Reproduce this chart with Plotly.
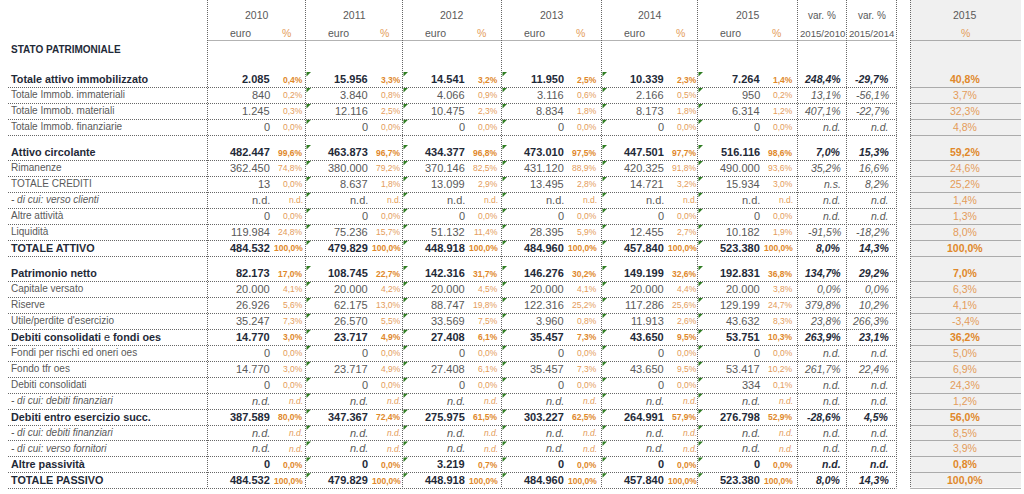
import plotly.graph_objects as go

# ---------------- data ----------------
row_labels = [
    "Totale attivo immobilizzato", "Totale Immob. immateriali", "Totale Immob. materiali",
    "Totale Immob. finanziarie",
    "Attivo circolante", "Rimanenze", "TOTALE CREDITI", "- di cui: verso clienti", "Altre attività",
    "Liquidità", "TOTALE ATTIVO",
    "Patrimonio netto", "Capitale versato", "Riserve", "Utile/perdite d'esercizio",
    "Debiti consolidati e fondi oes", "Fondi per rischi ed oneri oes", "Fondo tfr oes",
    "Debiti consolidati", "- di cui: debiti finanziari", "Debiti entro esercizio succ.",
    "- di cui: debiti finanziari", "- di cui: verso fornitori", "Altre passività", "TOTALE PASSIVO",
]
# b = bold total row, r = normal row, i = "di cui" row, c = "di cui" row with upright values
row_kind = ["b", "r", "r", "r",
            "b", "r", "r", "c", "r", "r", "b",
            "b", "r", "r", "r", "b", "r", "r", "r", "i", "b", "i", "i", "b", "b"]
section_sizes = [4, 7, 14]

years = ["2010", "2011", "2012", "2013", "2014", "2015"]

euro_2010 = [2085, 840, 1245, 0, 482447, 362450, 13, None, 0, 119984, 484532,
             82173, 20000, 26926, 35247, 14770, 0, 14770, 0, None, 387589, None, None, 0, 484532]
euro_2011 = [15956, 3840, 12116, 0, 463873, 380000, 8637, None, 0, 75236, 479829,
             108745, 20000, 62175, 26570, 23717, 0, 23717, 0, None, 347367, None, None, 0, 479829]
euro_2012 = [14541, 4066, 10475, 0, 434377, 370146, 13099, None, 0, 51132, 448918,
             142316, 20000, 88747, 33569, 27408, 0, 27408, 0, None, 275975, None, None, 3219, 448918]
euro_2013 = [11950, 3116, 8834, 0, 473010, 431120, 13495, None, 0, 28395, 484960,
             146276, 20000, 122316, 3960, 35457, 0, 35457, 0, None, 303227, None, None, 0, 484960]
euro_2014 = [10339, 2166, 8173, 0, 447501, 420325, 14721, None, 0, 12455, 457840,
             149199, 20000, 117286, 11913, 43650, 0, 43650, 0, None, 264991, None, None, 0, 457840]
euro_2015 = [7264, 950, 6314, 0, 516116, 490000, 15934, None, 0, 10182, 523380,
             192831, 20000, 129199, 43632, 53751, 0, 53417, 334, None, 276798, None, None, 0, 523380]

pct_2010 = [0.4, 0.2, 0.3, 0.0, 99.6, 74.8, 0.0, None, 0.0, 24.8, 100.0,
            17.0, 4.1, 5.6, 7.3, 3.0, 0.0, 3.0, 0.0, None, 80.0, None, None, 0.0, 100.0]
pct_2011 = [3.3, 0.8, 2.5, 0.0, 96.7, 79.2, 1.8, None, 0.0, 15.7, 100.0,
            22.7, 4.2, 13.0, 5.5, 4.9, 0.0, 4.9, 0.0, None, 72.4, None, None, 0.0, 100.0]
pct_2012 = [3.2, 0.9, 2.3, 0.0, 96.8, 82.5, 2.9, None, 0.0, 11.4, 100.0,
            31.7, 4.5, 19.8, 7.5, 6.1, 0.0, 6.1, 0.0, None, 61.5, None, None, 0.7, 100.0]
pct_2013 = [2.5, 0.6, 1.8, 0.0, 97.5, 88.9, 2.8, None, 0.0, 5.9, 100.0,
            30.2, 4.1, 25.2, 0.8, 7.3, 0.0, 7.3, 0.0, None, 62.5, None, None, 0.0, 100.0]
pct_2014 = [2.3, 0.5, 1.8, 0.0, 97.7, 91.8, 3.2, None, 0.0, 2.7, 100.0,
            32.6, 4.4, 25.6, 2.6, 9.5, 0.0, 9.5, 0.0, None, 57.9, None, None, 0.0, 100.0]
pct_2015 = [1.4, 0.2, 1.2, 0.0, 98.6, 93.6, 3.0, None, 0.0, 1.9, 100.0,
            36.8, 3.8, 24.7, 8.3, 10.3, 0.0, 10.2, 0.1, None, 52.9, None, None, 0.0, 100.0]

var_2015_2010 = [248.4, 13.1, 407.1, None, 7.0, 35.2, "n.s.", None, None, -91.5, 8.0,
                 134.7, 0.0, 379.8, 23.8, 263.9, None, 261.7, None, None, -28.6, None, None, None, 8.0]
var_2015_2014 = [-29.7, -56.1, -22.7, None, 15.3, 16.6, 8.2, None, None, -18.2, 14.3,
                 29.2, 0.0, 10.2, 266.3, 23.1, None, 22.4, None, None, 4.5, None, None, None, 14.3]

# grey side panel: 2015 %
bench_2015 = [40.8, 3.7, 32.3, 4.8, 59.2, 24.6, 25.2, 1.4, 1.3, 8.0, 100.0,
              7.0, 6.3, 4.1, -3.4, 36.2, 5.0, 6.9, 24.3, 1.2, 56.0, 8.5, 3.9, 0.8, 100.0]

euro_cols = [euro_2010, euro_2011, euro_2012, euro_2013, euro_2014, euro_2015]
pct_cols = [pct_2010, pct_2011, pct_2012, pct_2013, pct_2014, pct_2015]

# ---------------- layout constants ----------------
W, H = 1024, 494
col_lines = [207.5, 305.5, 402.5, 501.5, 601.5, 697.5, 797.5, 846.5, 896.5]
panel_x0, panel_x1 = 910.5, 1021
section_top = [79, 152, 273]
pitch = 15.95
table_bottom = 487.5

FONT = "Liberation Sans, Arial, sans-serif"
DARK = "#1f2a38"
GREY = "#595959"
ORANGE_B = "#e0882a"
ORANGE_R = "#e49c5a"
LINE = "#666666"


def fmt_euro(v):
    if v is None:
        return "n.d."
    return f"{v:,}".replace(",", ".")


def fmt_pct(v):
    if v is None:
        return "n.d."
    if isinstance(v, str):
        return v
    return f"{v:.1f}%".replace(".", ",")


# row centres
row_y = []
for s, n in enumerate(section_sizes):
    for k in range(n):
        row_y.append(section_top[s] + k * pitch)

ann = []


def txt(x, y, s, anchor="right", size=10, color=GREY, weight="normal", style="normal"):
    ann.append(dict(x=x, y=y, text=s, xanchor=anchor, yanchor="middle", showarrow=False,
                    borderpad=0,
                    font=dict(family=FONT, size=size, color=color, weight=weight, style=style)))


# header
for j, yr in enumerate(years):
    left, right = col_lines[j], col_lines[j + 1]
    txt((left + right) / 2, 15, yr, anchor="center", size=10.5)
    txt(left + 33, 33, "euro", anchor="center", size=10.5)
    txt(left + 79, 33, "%", anchor="center", size=10.5, color=ORANGE_R)
txt(822, 15, "var. %", anchor="center", size=10)
txt(822, 33, "2015/2010", anchor="center", size=9.6)
txt(871.5, 15, "var. %", anchor="center", size=10)
txt(871.5, 33, "2015/2014", anchor="center", size=9.6)
txt(965, 15, "2015", anchor="center", size=10.5)
txt(965, 33, "%", anchor="center", size=10.5, color=ORANGE_R)
txt(10, 49, "STATO PATRIMONIALE", anchor="left", size=10, color=DARK, weight="bold")

# body
for i, lab in enumerate(row_labels):
    y = row_y[i]
    kind = row_kind[i]
    bold = kind == "b"
    ital_lab = kind in ("i", "c")
    ital_val = kind == "i"
    if bold:
        if lab.startswith("Debiti consolidati e"):
            s = "<b>Debiti consolidati</b> e <b>fondi oes</b>"
            txt(10, y, s, anchor="left", size=10.8, color=DARK)
        else:
            txt(10, y, lab, anchor="left", size=10.8, color=DARK, weight="bold")
    else:
        txt(10, y, lab, anchor="left", size=10, color=GREY, style="italic" if ital_lab else "normal")

    for j in range(6):
        left = col_lines[j]
        e = fmt_euro(euro_cols[j][i])
        p = fmt_pct(pct_cols[j][i])
        if bold:
            txt(left + 63, y, e, size=11, color=DARK, weight="bold")
            txt(left + 96, y + 0.5, p, size=8.5, color=ORANGE_B, weight="bold")
        else:
            st = "italic" if ital_val else "normal"
            txt(left + 63, y, e, size=11, color=GREY, style=st)
            txt(left + 96, y + 0.5, p, size=8.5, color=ORANGE_R, style=st)

    for x_r, col in ((842, var_2015_2010), (890, var_2015_2014)):
        v = fmt_pct(col[i])
        if bold:
            txt(x_r, y, v, size=10.5, color=DARK, weight="bold", style="italic")
        else:
            txt(x_r, y, v, size=10.5, color=GREY, style="italic")

    b = fmt_pct(bench_2015[i])
    if bold:
        txt(965, y, b, anchor="center", size=10.5, color=ORANGE_B, weight="bold")
    else:
        txt(965, y, b, anchor="center", size=10.5, color=ORANGE_R)

# grid lines
shapes = [dict(type="rect", x0=panel_x0, x1=panel_x1, y0=0, y1=table_bottom,
               fillcolor="#f0f0f0", line=dict(width=0), layer="below")]
dot = dict(color=LINE, width=1, dash="1px,1px")


def hline(y, x0, x1):
    shapes.append(dict(type="line", x0=x0, x1=x1, y0=y, y1=y, line=dot, layer="above"))


def vline(x, y0, y1):
    shapes.append(dict(type="line", x0=x, x1=x, y0=y0, y1=y1, line=dot, layer="above"))


hline(40.5, col_lines[0], col_lines[-1])
hline(40.5, panel_x0, panel_x1)
for y in row_y:
    yl = round(y + 8) + 0.5
    hline(yl, 8, col_lines[-1])
    hline(yl, panel_x0, panel_x1)
for x in col_lines:
    vline(x, 0, table_bottom)
vline(panel_x0, 0, table_bottom)

# Excel green error-flag triangles (2011-2015 euro cells)
tri_x, tri_y = [], []
for j in range(1, 6):
    for y in row_y:
        tri_x.append(col_lines[j] + 2.5)
        tri_y.append(y - 5.5)

fig = go.Figure()
fig.add_trace(go.Scatter(x=tri_x, y=tri_y, mode="markers", hoverinfo="skip",
                         marker=dict(symbol="triangle-nw", size=5, color="#2f7d22", line=dict(width=0))))

fig.update_layout(
    width=W, height=H,
    margin=dict(l=0, r=0, t=0, b=0),
    paper_bgcolor="white", plot_bgcolor="white",
    xaxis=dict(range=[0, W], visible=False, fixedrange=True),
    yaxis=dict(range=[H, 0], visible=False, fixedrange=True),
    showlegend=False,
    annotations=ann,
    shapes=shapes,
)

fig.write_html("out.html", config={"displayModeBar": False, "staticPlot": True},
               post_script="document.body.style.margin='0';")
